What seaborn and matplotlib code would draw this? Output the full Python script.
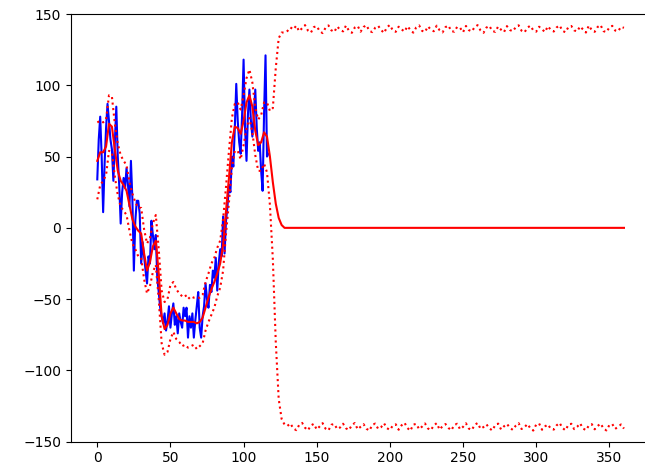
import numpy as np
import matplotlib
matplotlib.use("Agg")
import matplotlib.pyplot as plt
import seaborn as sns

# observed samples (blue)
obs_x = list(range(0, 118))
obs_y = [34, 62, 78, 50, 11, 45, 70, 87, 75, 62,
         55, 33, 60, 85, 50, 30, 3, 25, 35, 28,
         42, 30, 15, 47, 20, -30, 5, 19, 19, 10,
         -25, -10, -20, -30, -39, -20, -25, 5, -5, -15,
         -5, -35, -45, -56, -62, -67, -60, -72, -65, -55,
         -70, -60, -53, -68, -62, -74, -60, -66, -70, -56,
         -62, -56, -77, -62, -70, -60, -77, -65, -55, -45,
         -70, -77, -62, -55, -39, -50, -56, -40, -45, -30,
         -35, -21, -44, -25, -15, -20, 8, -18, 5, 15,
         30, 25, 50, 43, 70, 101, 75, 60, 52, 80,
         118, 70, 47, 80, 97, 75, 64, 80, 97, 70,
         54, 60, 40, 26, 80, 121, 50, 52]

# prediction grid
grid_x = np.arange(0, 361, 2)

pred_mean = [47, 53, 53, 57, 73, 71, 55, 40, 33, 30,
             26, 16, 6, 1, -2, -4, -18, -30, -24, -13,
             -9, -32, -62, -71, -68, -60, -56, -60, -64, -65,
             -65, -66, -66, -66, -67, -66, -63, -56, -49, -43,
             -38, -32, -25, -12, 12, 35, 60, 71, 70, 66,
             75, 88, 93, 85, 68, 58, 60, 67, 64, 50,
             32, 17, 7, 2, 0] + [0.0] * 116

band_up = [27, 22, 21, 19, 20, 21, 18, 19, 18, 17,
           18, 16, 18, 17, 16, 18, 17, 19, 17, 16,
           18, 17, 18, 19, 18, 20, 18, 17, 18, 17,
           18, 16, 18, 17, 18, 17, 16, 18, 17, 18,
           17, 18, 16, 18, 17, 19, 17, 16, 18, 17,
           18, 17, 18, 17, 16, 18, 19, 21, 24, 32,
           52, 95, 126, 135, 137,
           138.1, 140.6, 139.2, 141.8, 137.9, 140.1, 142.2, 138.4, 136.9, 140.8,
           141.5, 138.0, 136.6, 140.3, 142.0, 138.6, 137.4, 141.2, 139.0, 137.8,
           141.9, 138.3, 136.8, 140.5, 141.6, 137.6, 140.9, 142.1, 138.1, 137.3,
           140.4, 141.7, 138.8, 136.7, 140.7, 142.3, 138.5, 137.5, 141.1, 139.2,
           137.7, 141.4, 138.9, 136.9, 140.6, 142.0, 138.2, 137.4, 141.3, 139.1,
           137.9, 141.8, 138.6, 137.1, 140.8, 141.9, 138.0, 137.6, 141.0, 140.3,
           137.2, 141.6, 138.7, 137.8, 140.9, 142.2, 138.4, 136.8, 140.5, 141.7,
           138.1, 137.5, 141.2, 139.0, 137.3, 141.5, 138.8, 137.9, 140.7, 142.1,
           138.3, 137.1, 140.4, 141.8, 138.6, 137.6, 141.1, 139.2, 137.4, 141.4,
           138.9, 137.7, 140.6, 142.0, 138.2, 137.2, 140.8, 141.6, 138.5, 137.8,
           141.3, 139.1, 137.0, 141.9, 138.7, 137.5, 140.9, 142.3, 138.0, 137.3,
           140.5, 141.7, 138.4, 137.9, 141.0, 140.3]

band_lo = [27, 23, 20, 20, 19, 18, 19, 17, 18, 18,
           17, 18, 17, 16, 18, 17, 18, 16, 17, 18,
           17, 18, 19, 18, 19, 18, 17, 18, 16, 18,
           17, 18, 17, 16, 18, 17, 18, 16, 17, 18,
           18, 16, 17, 18, 16, 17, 18, 17, 16, 18,
           17, 18, 16, 18, 17, 18, 20, 22, 25, 34,
           54, 97, 127, 136, 138,
           138.9, 137.2, 140.7, 141.9, 138.3, 136.8, 140.2, 142.0, 138.6, 137.5,
           141.4, 139.3, 137.0, 140.8, 142.1, 138.1, 137.6, 141.1, 140.0, 137.4,
           140.6, 141.8, 138.4, 136.9, 141.3, 139.5, 137.7, 140.9, 142.2, 138.2,
           137.3, 141.0, 139.8, 137.1, 140.5, 141.7, 138.7, 137.8, 141.6, 138.5,
           136.7, 140.4, 142.3, 138.0, 137.5, 141.2, 139.4, 137.2, 140.7, 141.9,
           138.6, 137.0, 141.5, 139.1, 137.6, 140.3, 142.0, 138.3, 137.4, 141.3,
           139.6, 137.1, 140.8, 141.8, 138.1, 136.9, 141.0, 139.7, 137.8, 140.6,
           142.1, 138.4, 137.3, 141.4, 139.2, 137.5, 140.2, 141.7, 138.8, 137.0,
           141.1, 139.9, 137.6, 140.5, 142.2, 138.0, 137.2, 141.6, 139.3, 137.9,
           140.9, 141.5, 138.5, 136.8, 140.4, 142.0, 138.2, 137.4, 141.2, 139.6,
           137.1, 140.7, 141.9, 138.7, 137.7, 141.3, 139.0, 137.3, 140.6, 142.1,
           138.4, 137.6, 141.0, 139.5, 137.9, 140.8]

mean = np.array(pred_mean, dtype=float)
upper = mean + np.array(band_up)
lower = mean - np.array(band_lo)

fig = plt.figure(figsize=(6.45, 4.7), dpi=100)
# axes runs slightly past the right edge of the image, as in the reference
ax = fig.add_axes([0.110, 0.0602, 0.905, 0.910])

sns.lineplot(x=obs_x, y=obs_y, color="b", lw=1.5, estimator=None, sort=False, ax=ax)
sns.lineplot(x=grid_x, y=mean, color="r", lw=1.5, estimator=None, sort=False, ax=ax)
sns.lineplot(x=grid_x, y=upper, color="r", lw=1.5, linestyle=":", estimator=None, sort=False, ax=ax)
sns.lineplot(x=grid_x, y=lower, color="r", lw=1.5, linestyle=":", estimator=None, sort=False, ax=ax)

ax.set_xlim(-18, 381)
ax.set_ylim(-150, 150)
ax.set_xticks(range(0, 351, 50))
ax.set_yticks(range(-150, 151, 50))

fig.savefig("out.png", dpi=100)
